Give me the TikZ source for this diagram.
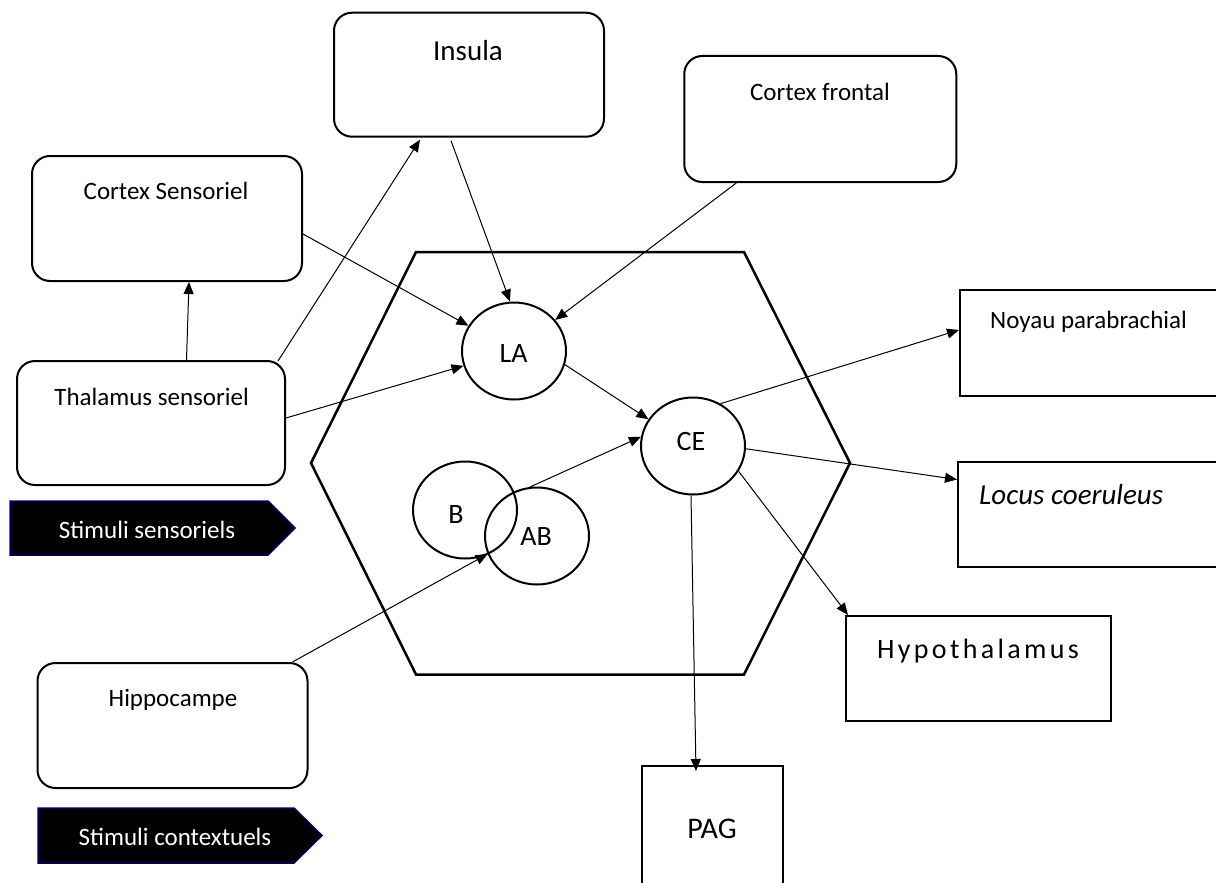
\documentclass[tikz,border=0pt]{standalone}
\usepackage{fontspec}
\setmainfont{Carlito}
\usetikzlibrary{arrows.meta,shapes.geometric,calc}
\begin{document}
\begin{tikzpicture}[x=1pt,y=-1pt,
  rbox/.style={draw, line width=2pt, rounded corners=18pt, inner sep=0pt},
  sbox/.style={draw, line width=2pt, inner sep=0pt},
  circ/.style={draw, ellipse, line width=2pt, minimum width=104pt, minimum height=97pt, inner sep=0pt},
  txt/.style={inner sep=0pt, anchor=base, font=\fontsize{25}{30}\selectfont},
  ctxt/.style={txt, font=\fontsize{28}{33}\selectfont},
  conn/.style={line width=1pt, -{Triangle[length=12pt,width=10pt]}},
  stim/.style={fill=black, draw=blue!40!black, line width=1.5pt},
]
\useasboundingbox (0,0) rectangle (1216,883);
\clip (0,0) rectangle (1216,883);
\fill[white] (0,0) rectangle (1216,883);

% hexagon
\draw[line width=2.5pt, line join=miter] (416,252) -- (744,252) -- (850,463) -- (744,674.5) -- (416,674.5) -- (311,463) -- cycle;

% rounded boxes
\node[rbox, minimum width=270pt, minimum height=124pt] (ins) at (469,74.7) {};
\node[rbox, minimum width=272pt, minimum height=126pt] (cf) at (820.25,119) {};
\node[rbox, minimum width=270pt, minimum height=125pt] (cs) at (167,218.5) {};
\node[rbox, minimum width=268pt, minimum height=124pt] (thal) at (151,423) {};
\node[rbox, minimum width=270pt, minimum height=125pt] (hip) at (172.5,725.5) {};

% square boxes
\node[sbox, minimum width=270pt, minimum height=106pt] (np) at (1095,343) {};
\node[sbox, minimum width=272pt, minimum height=105pt] (lc) at (1094,514.5) {};
\node[sbox, minimum width=265pt, minimum height=105pt] (hyp) at (978.5,668.5) {};
\node[sbox, minimum width=141pt, minimum height=134pt] (pag) at (712.5,833) {};

% circles
\node[circ] (la) at (514,351) {};
\node[circ] (ce) at (693,446) {};
\node[circ] (b) at (465,510) {};
\node[circ] (ab) at (537,536) {};

% stimuli arrows
\draw[stim] (10,501) -- (268,501) -- (295,528) -- (268,555) -- (10,555) -- cycle;
\draw[stim] (38,808) -- (294,808) -- (322,835.5) -- (294,863) -- (38,863) -- cycle;

% texts
\node[txt, font=\fontsize{29}{34}\selectfont] (ins-t) at (468,60) {Insula};
\node[txt] (cs-t) at (166,199.3) {Cortex Sensoriel};
\node[txt] (thal-t) at (151.6,405) {Thalamus sensoriel};
\node[txt] (cf-t) at (820,100) {Cortex frontal};
\node[txt] (hip-t) at (173,706.7) {Hippocampe};
\node[txt, anchor=base west] (np-t) at (990,328) {Noyau parabrachial};
\node[txt, anchor=base west, font=\fontsize{29}{34}\selectfont\itshape] (lc-t) at (979,504) {Locus coeruleus};
\node[txt, font=\fontsize{28}{33}\selectfont\addfontfeature{LetterSpace=12}] (hyp-t) at (978,658) {Hypothalamus};
\node[txt, font=\fontsize{30}{36}\selectfont] (pag-t) at (712,838) {PAG};
\node[ctxt] (la-t) at (513.5,362.7) {LA};
\node[ctxt] (ce-t) at (691,450.7) {CE};
\node[ctxt] (b-t) at (456,523.3) {B};
\node[ctxt] (ab-t) at (536,545) {AB};
\node[txt, text=white] (ss-t) at (147,538) {Stimuli sensoriels};
\node[txt, text=white] (sc-t) at (175,845) {Stimuli contextuels};

% connectors
\draw[conn] ([xshift=35.5pt]thal.north) -- ([xshift=22pt]cs.south);
\draw[conn] ([xshift=-8pt,yshift=-1pt]thal.north east) -- ([xshift=-49pt,yshift=-2pt]ins.south);
\draw[conn] ([yshift=5pt]thal.east) -- (la);
\draw[conn] ([yshift=-15.5pt]cs.east) -- (la);
\draw[conn] ([xshift=-18pt,yshift=-3pt]ins.south) -- ([xshift=-4pt]la.north);
\draw[conn] ([xshift=-84pt]cf.south) -- (la.37);
\draw[conn] (la.-15) -- (ce.149);
\draw[conn] (ab.98) -- (ce.170);
\draw[conn] ([xshift=120pt]hip.north) -- (ab.200);
\draw[conn] (ce.57) -- ([yshift=13pt]np.west);
\draw[conn] (ce.-3) -- ([yshift=35pt]lc.west);
\draw[conn] (ce.-29) -- ([xshift=3pt]hyp.north west);
\draw[conn] ([xshift=-2pt]ce.south) -- ([xshift=-16.5pt,yshift=-6pt]pag.north);
\end{tikzpicture}
\end{document}
